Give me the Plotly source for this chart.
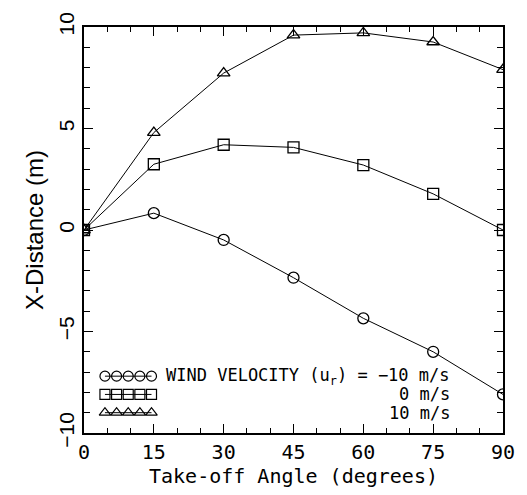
import plotly.graph_objects as go

# Take-off angle (degrees)
angles = [0, 15, 30, 45, 60, 75, 90]

# X-distance (m) for each wind velocity
dist_minus10 = [0.0, 0.83, -0.49, -2.35, -4.35, -6.0, -8.1]
dist_zero = [0.0, 3.24, 4.2, 4.07, 3.2, 1.78, 0.0]
dist_plus10 = [0.0, 4.8, 7.73, 9.6, 9.71, 9.26, 7.9]

series = [
    ("-10 m/s", dist_minus10, "circle-open"),
    ("0 m/s", dist_zero, "square-open"),
    ("10 m/s", dist_plus10, "triangle-up-open"),
]

legend_text = ["WIND VELOCITY (u<sub>r</sub>) = −10 m/s", "0 m/s", "10 m/s"]

fig = go.Figure()

for name, vals, sym in series:
    fig.add_trace(go.Scatter(
        x=angles, y=vals, mode="lines+markers", name=name,
        line=dict(color="black", width=1),
        marker=dict(symbol=sym, size=11, color="black",
                    line=dict(color="black", width=1.3)),
        showlegend=False,
    ))

# Hand-drawn style key in the lower-left corner: five glyphs per row
key_x = [4.5, 7.0, 9.5, 12.0, 14.5]
key_rows = [-7.2, -8.1, -9.0]
for (name, _, sym), ky, txt in zip(series, key_rows, legend_text):
    fig.add_trace(go.Scatter(
        x=key_x, y=[ky] * len(key_x), mode="lines+markers",
        line=dict(color="black", width=1),
        marker=dict(symbol=sym, size=10, color="black",
                    line=dict(color="black", width=1.2)),
        showlegend=False, hoverinfo="skip",
    ))
    fig.add_annotation(
        x=79.0, y=ky, xref="x", yref="y", text=txt, showarrow=False,
        xanchor="right", yanchor="middle",
        font=dict(family="DejaVu Sans Mono", size=17, color="black"),
    )

fig.update_layout(
    width=527, height=495,
    margin=dict(l=84, r=19, t=18, b=62),
    paper_bgcolor="white", plot_bgcolor="white",
    xaxis=dict(
        range=[0, 90], tickvals=[0, 15, 30, 45, 60, 75, 90],
        ticks="inside", ticklen=9, tickwidth=1, tickcolor="black",
        minor=dict(dtick=5, tick0=0, ticks="inside", ticklen=5,
                   tickwidth=1, tickcolor="black"),
        showline=True, linecolor="black", linewidth=1.5, mirror="ticks",
        showgrid=False, zeroline=False,
        tickfont=dict(family="DejaVu Sans Mono", size=20, color="black"),
        title=dict(text="Take-off Angle (degrees)", standoff=2,
                   font=dict(family="DejaVu Sans Mono", size=20, color="black")),
    ),
    yaxis=dict(
        range=[-10, 10], tickvals=[-10, -5, 0, 5, 10],
        ticks="inside", ticklen=9, tickwidth=1, tickcolor="black",
        minor=dict(dtick=1, tick0=0, ticks="inside", ticklen=6,
                   tickwidth=1, tickcolor="black"),
        showline=True, linecolor="black", linewidth=1.5, mirror="ticks",
        showgrid=False, zeroline=False, tickangle=-90,
        tickfont=dict(family="Liberation Sans", size=21, color="black"),
        title=dict(text="X-Distance (m)", standoff=4,
                   font=dict(family="Liberation Sans", size=24, color="black")),
    ),
)

fig.write_html("out.html")
